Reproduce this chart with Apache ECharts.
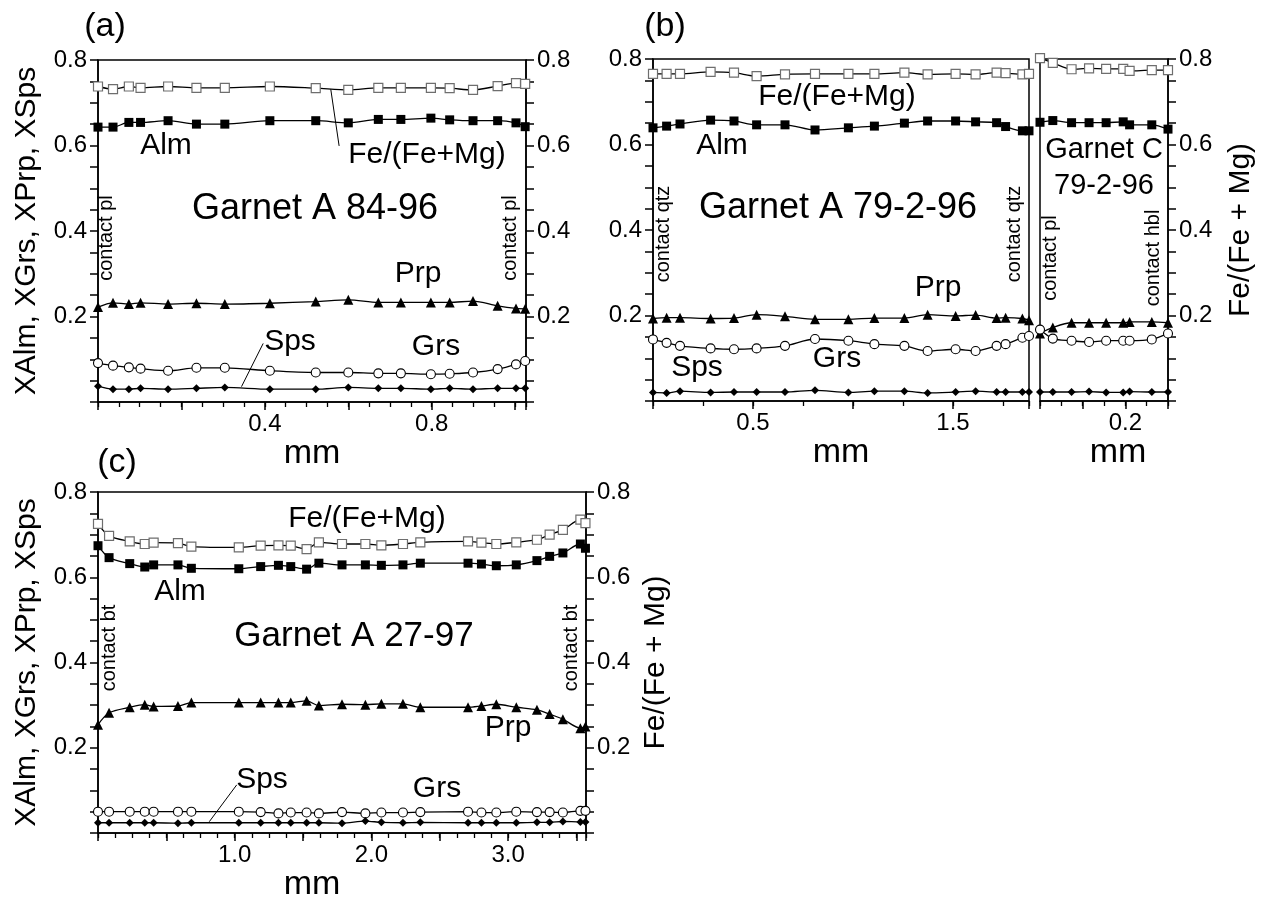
<!DOCTYPE html>
<html>
<head>
<meta charset="utf-8">
<title>Garnet zoning profiles</title>
<script src="https://cdn.jsdelivr.net/npm/echarts@6/dist/echarts.min.js"></script>
<style>
  html, body { margin: 0; padding: 0; background: #fff; }
  #chart { width: 1276px; height: 902px; }
</style>
</head>
<body>
<div id="chart"></div>
<script>
// ---- Garnet A 84-96 (distance in mm) ----
const distA84 = [0, 0.036, 0.074, 0.102, 0.168, 0.236, 0.304, 0.412, 0.522, 0.600, 0.672, 0.726, 0.798, 0.843, 0.899, 0.958, 1.002, 1.024];
const feA84  = [0.738, 0.732, 0.738, 0.735, 0.738, 0.735, 0.735, 0.738, 0.734, 0.730, 0.735, 0.735, 0.735, 0.734, 0.730, 0.739, 0.746, 0.744];
const almA84 = [0.643, 0.643, 0.654, 0.654, 0.658, 0.650, 0.650, 0.658, 0.658, 0.653, 0.661, 0.661, 0.664, 0.660, 0.658, 0.658, 0.653, 0.644];
const prpA84 = [0.222, 0.232, 0.229, 0.232, 0.229, 0.231, 0.229, 0.231, 0.235, 0.239, 0.233, 0.233, 0.233, 0.233, 0.236, 0.225, 0.219, 0.218];
const grsA84 = [0.091, 0.085, 0.081, 0.078, 0.073, 0.080, 0.080, 0.073, 0.069, 0.069, 0.067, 0.067, 0.065, 0.066, 0.069, 0.077, 0.088, 0.096];
const spsA84 = [0.037, 0.030, 0.030, 0.032, 0.030, 0.032, 0.034, 0.030, 0.030, 0.034, 0.032, 0.032, 0.030, 0.032, 0.030, 0.032, 0.032, 0.032];

// ---- Garnet A 79-2-96 ----
const distA79 = [0, 0.068, 0.135, 0.288, 0.405, 0.518, 0.660, 0.810, 0.977, 1.107, 1.257, 1.373, 1.513, 1.613, 1.718, 1.763, 1.847, 1.880];
const feA79  = [0.765, 0.765, 0.765, 0.770, 0.768, 0.760, 0.764, 0.765, 0.765, 0.765, 0.768, 0.764, 0.765, 0.764, 0.768, 0.767, 0.764, 0.765];
const almA79 = [0.639, 0.643, 0.648, 0.657, 0.655, 0.646, 0.646, 0.634, 0.639, 0.643, 0.650, 0.655, 0.655, 0.653, 0.651, 0.642, 0.632, 0.632];
const prpA79 = [0.193, 0.195, 0.195, 0.193, 0.194, 0.202, 0.198, 0.191, 0.191, 0.194, 0.194, 0.202, 0.199, 0.201, 0.194, 0.195, 0.193, 0.189];
const grsA79 = [0.144, 0.136, 0.129, 0.123, 0.121, 0.123, 0.129, 0.145, 0.141, 0.133, 0.129, 0.117, 0.121, 0.117, 0.129, 0.133, 0.148, 0.152];
const spsA79 = [0.020, 0.019, 0.023, 0.020, 0.021, 0.021, 0.021, 0.025, 0.020, 0.023, 0.023, 0.019, 0.021, 0.023, 0.021, 0.021, 0.021, 0.021];

// ---- Garnet C 79-2-96 ----
const distC79 = [0, 0.030, 0.074, 0.115, 0.155, 0.195, 0.210, 0.262, 0.300];
const feC79  = [0.802, 0.791, 0.776, 0.778, 0.777, 0.777, 0.772, 0.774, 0.774];
const almC79 = [0.652, 0.656, 0.651, 0.651, 0.651, 0.653, 0.646, 0.646, 0.636];
const prpC79 = [0.158, 0.172, 0.183, 0.183, 0.183, 0.183, 0.185, 0.185, 0.183];
const grsC79 = [0.167, 0.146, 0.141, 0.138, 0.141, 0.141, 0.141, 0.144, 0.158];
const spsC79 = [0.021, 0.021, 0.021, 0.022, 0.020, 0.020, 0.022, 0.021, 0.021];

// ---- Garnet A 27-97 ----
const distA27 = [0, 0.081, 0.232, 0.342, 0.407, 0.585, 0.683, 1.030, 1.190, 1.320, 1.410, 1.526, 1.616, 1.785, 1.956, 2.073, 2.231, 2.358, 2.707, 2.805, 2.914, 3.060, 3.211, 3.304, 3.401, 3.529, 3.566];
const feA27  = [0.725, 0.697, 0.684, 0.678, 0.681, 0.680, 0.672, 0.670, 0.674, 0.675, 0.674, 0.666, 0.682, 0.678, 0.678, 0.675, 0.678, 0.682, 0.684, 0.681, 0.678, 0.682, 0.688, 0.700, 0.711, 0.735, 0.727];
const almA27 = [0.674, 0.646, 0.632, 0.624, 0.629, 0.629, 0.621, 0.620, 0.625, 0.628, 0.625, 0.619, 0.633, 0.629, 0.629, 0.628, 0.629, 0.633, 0.633, 0.631, 0.627, 0.629, 0.639, 0.649, 0.657, 0.678, 0.668];
const prpA27 = [0.254, 0.282, 0.295, 0.301, 0.297, 0.298, 0.306, 0.306, 0.306, 0.306, 0.306, 0.310, 0.299, 0.302, 0.301, 0.303, 0.303, 0.295, 0.295, 0.298, 0.302, 0.295, 0.289, 0.279, 0.267, 0.246, 0.250];
const grsA27 = [0.050, 0.050, 0.050, 0.050, 0.050, 0.050, 0.050, 0.050, 0.049, 0.046, 0.048, 0.048, 0.046, 0.049, 0.046, 0.048, 0.048, 0.049, 0.050, 0.048, 0.048, 0.050, 0.049, 0.049, 0.048, 0.052, 0.052];
const spsA27 = [0.024, 0.024, 0.024, 0.024, 0.024, 0.023, 0.024, 0.024, 0.024, 0.024, 0.024, 0.024, 0.024, 0.023, 0.028, 0.025, 0.024, 0.025, 0.024, 0.024, 0.024, 0.024, 0.025, 0.025, 0.027, 0.026, 0.026];

// ---- tick labels ----
const yTickLabels   = ['0.2', '0.4', '0.6', '0.8'];
const xTickLabelsA84 = ['0.4', '0.8'];
const xTickLabelsA79 = ['0.5', '1.5'];
const xTickLabelsC79 = ['0.2'];
const xTickLabelsA27 = ['1.0', '2.0', '3.0'];

const FONT = '"Liberation Sans", Arial, Helvetica, sans-serif';
const BLACK = '#000';

const chart = echarts.init(document.getElementById('chart'), null, { renderer: 'canvas' });

function pickLabel(list) {
  return v => { const s = (Math.round(v * 100) / 100).toFixed(1); return list.includes(s) && Math.abs(v - parseFloat(s)) < 1e-6 ? s : ''; };
}

function gridBox(left, top, width, height) {
  return { left, top, width, height, show: true, borderColor: BLACK, borderWidth: 1.5,
           backgroundColor: 'transparent', containLabel: false, outerBoundsMode: 'none' };
}

// labelled x axis with major ticks and the "mm" title
function xMajor(gridIndex, max, interval, labels, namePadding) {
  return {
    gridIndex, type: 'value', min: 0, max, interval, position: 'bottom',
    name: 'mm', nameLocation: 'middle', nameGap: 30,
    nameTextStyle: { fontSize: 34, fontFamily: FONT, color: BLACK, padding: namePadding || 0 },
    axisLine: { show: true, onZero: false, lineStyle: { color: BLACK, width: 1.5 } },
    axisTick: { show: true, inside: false, length: 8, lineStyle: { color: BLACK, width: 1.5 } },
    minorTick: { show: false }, splitLine: { show: false },
    axisLabel: { show: true, margin: 10, fontSize: 24, fontFamily: FONT, color: BLACK, formatter: pickLabel(labels) }
  };
}

// companion x axis carrying only the short minor ticks
function xMinor(gridIndex, max, interval) {
  return {
    gridIndex, type: 'value', min: 0, max, interval, position: 'bottom',
    axisLine: { show: false, onZero: false },
    axisTick: { show: true, inside: false, length: 5, lineStyle: { color: BLACK, width: 1.3 } },
    axisLabel: { show: false }, splitLine: { show: false }, minorTick: { show: false }
  };
}

function yFrac(gridIndex, position, name, nameGap) {
  return {
    gridIndex, type: 'value', min: 0, max: 0.8, interval: 0.1, position,
    name: name || '', nameLocation: 'middle', nameGap: nameGap || 0,
    nameTextStyle: { fontSize: 30, fontFamily: FONT, color: BLACK },
    axisLine: { show: true, onZero: false, lineStyle: { color: BLACK, width: 1.5 } },
    axisTick: { show: true, inside: false, length: 8, lineStyle: { color: BLACK, width: 1.5 } },
    minorTick: { show: true, splitNumber: 2, length: 8, lineStyle: { color: BLACK, width: 1.5 } },
    splitLine: { show: false }, minorSplitLine: { show: false },
    axisLabel: { show: true, margin: 11, fontSize: 24, fontFamily: FONT, color: BLACK, formatter: pickLabel(yTickLabels) }
  };
}

const MARKERS = {
  fe:  { symbol: 'rect',     symbolSize: 9,  itemStyle: { color: '#fff', borderColor: '#6e6e6e', borderWidth: 1.2 } },
  alm: { symbol: 'rect',     symbolSize: 9,  itemStyle: { color: BLACK } },
  prp: { symbol: 'triangle', symbolSize: 10, itemStyle: { color: BLACK } },
  grs: { symbol: 'circle',   symbolSize: 9,  itemStyle: { color: '#fff', borderColor: BLACK, borderWidth: 1.1 } },
  sps: { symbol: 'diamond',  symbolSize: 8,  itemStyle: { color: BLACK } }
};

function profile(name, kind, xAxisIndex, yAxisIndex, dist, vals, leader) {
  const s = Object.assign({
    name, type: 'line', xAxisIndex, yAxisIndex,
    data: dist.map((d, i) => [d, vals[i]]),
    smooth: 0.3, clip: false, showAllSymbol: true,
    lineStyle: { color: BLACK, width: 1.3 },
    emphasis: { disabled: true }, animation: false, silent: true
  }, MARKERS[kind]);
  if (leader) {
    s.markLine = {
      silent: true, animation: false, symbol: ['none', 'none'],
      label: { show: false },
      lineStyle: { color: BLACK, width: 1, type: 'solid' },
      data: [[{ coord: leader[0] }, { coord: leader[1] }]]
    };
  }
  return s;
}

function panelSeries(tag, xIdx, yIdx, dist, fe, alm, prp, grs, sps, feLeader, spsLeader) {
  return [
    profile(tag + ' Fe/(Fe+Mg)', 'fe', xIdx, yIdx, dist, fe, feLeader),
    profile(tag + ' Alm', 'alm', xIdx, yIdx, dist, alm),
    profile(tag + ' Prp', 'prp', xIdx, yIdx, dist, prp),
    profile(tag + ' Grs', 'grs', xIdx, yIdx, dist, grs),
    profile(tag + ' Sps', 'sps', xIdx, yIdx, dist, sps, spsLeader)
  ];
}

const Y_TITLE = 'XAlm, XGrs, XPrp, XSps';
const R_TITLE = 'Fe/(Fe + Mg)';

function label(text, x, y, size, vertical) {
  return {
    type: 'text', x, y, rotation: vertical ? Math.PI / 2 : 0, silent: true, z: 10,
    style: { text, fontSize: size, fontFamily: FONT, fill: BLACK, align: 'center', verticalAlign: 'middle' }
  };
}

const option = {
  backgroundColor: '#fff',
  animation: false,
  textStyle: { fontFamily: FONT },
  grid: [
    gridBox(98, 60, 428, 342),    // (a) Garnet A 84-96
    gridBox(653, 59, 376, 342),   // (b) Garnet A 79-2-96
    gridBox(1040, 59, 128, 342),  // (b) Garnet C 79-2-96
    gridBox(98, 492, 488, 341)    // (c) Garnet A 27-97
  ],
  xAxis: [
    xMajor(0, 1.026, 0.2, xTickLabelsA84), xMinor(0, 1.026, 0.05),
    xMajor(1, 1.88, 0.5, xTickLabelsA79), xMinor(1, 1.88, 0.25),
    xMajor(2, 0.3, 0.1, xTickLabelsC79, [0, 0, 0, 28]), xMinor(2, 0.3, 0.05),
    xMajor(3, 3.57, 0.5, xTickLabelsA27, [0, 60, 0, 0]), xMinor(3, 3.57, 0.125)
  ],
  yAxis: [
    yFrac(0, 'left', Y_TITLE, 56),
    yFrac(0, 'right'),
    yFrac(1, 'left'),
    yFrac(2, 'right', R_TITLE, 58),
    yFrac(3, 'left', Y_TITLE, 56),
    yFrac(3, 'right', R_TITLE, 55)
  ],
  series: [].concat(
    panelSeries('84-96 A', 0, 0, distA84, feA84, almA84, prpA84, grsA84, spsA84,
      [[0.558, 0.7315], [0.578, 0.599]], [[0.396, 0.137], [0.344, 0.036]]),
    panelSeries('79-2-96 A', 2, 2, distA79, feA79, almA79, prpA79, grsA79, spsA79),
    panelSeries('79-2-96 C', 4, 3, distC79, feC79, almC79, prpC79, grsC79, spsC79),
    panelSeries('27-97 A', 6, 4, distA27, feA27, almA27, prpA27, grsA27, spsA27,
      null, [[1.015, 0.113], [0.814, 0.0265]])
  ),
  graphic: [
    // (a)
    label('(a)', 105, 27, 34),
    label('Alm', 166, 146, 30),
    label('Fe/(Fe+Mg)', 427, 155, 30),
    label('Garnet A 84-96', 315, 209, 36),
    label('Prp', 418, 274, 30),
    label('Sps', 290, 342, 30),
    label('Grs', 436, 347, 30),
    label('contact pl', 106, 238, 20, true),
    label('contact pl', 510, 238, 20, true),
    // (b)
    label('(b)', 665, 27, 34),
    label('Fe/(Fe+Mg)', 837, 97, 30),
    label('Alm', 722, 146, 30),
    label('Garnet A 79-2-96', 838, 208, 36),
    label('contact qtz', 663, 234, 20, true),
    label('contact qtz', 1014, 234, 20, true),
    label('Prp', 938, 288, 30),
    label('Grs', 837, 359, 30),
    label('Sps', 697, 368, 30),
    label('Garnet C', 1104, 150, 29),
    label('79-2-96', 1104, 186, 29),
    label('contact pl', 1050, 258, 20, true),
    label('contact hbl', 1153, 258, 20, true),
    // (c)
    label('(c)', 117, 463, 34),
    label('Fe/(Fe+Mg)', 367, 519, 30),
    label('Alm', 180, 592, 30),
    label('Garnet A 27-97', 354, 636, 35),
    label('contact bt', 109, 648, 20, true),
    label('contact bt', 571, 648, 20, true),
    label('Prp', 508, 728, 30),
    label('Sps', 262, 780, 30),
    label('Grs', 437, 789, 30)
  ]
};

chart.setOption(option);
</script>
</body>
</html>
